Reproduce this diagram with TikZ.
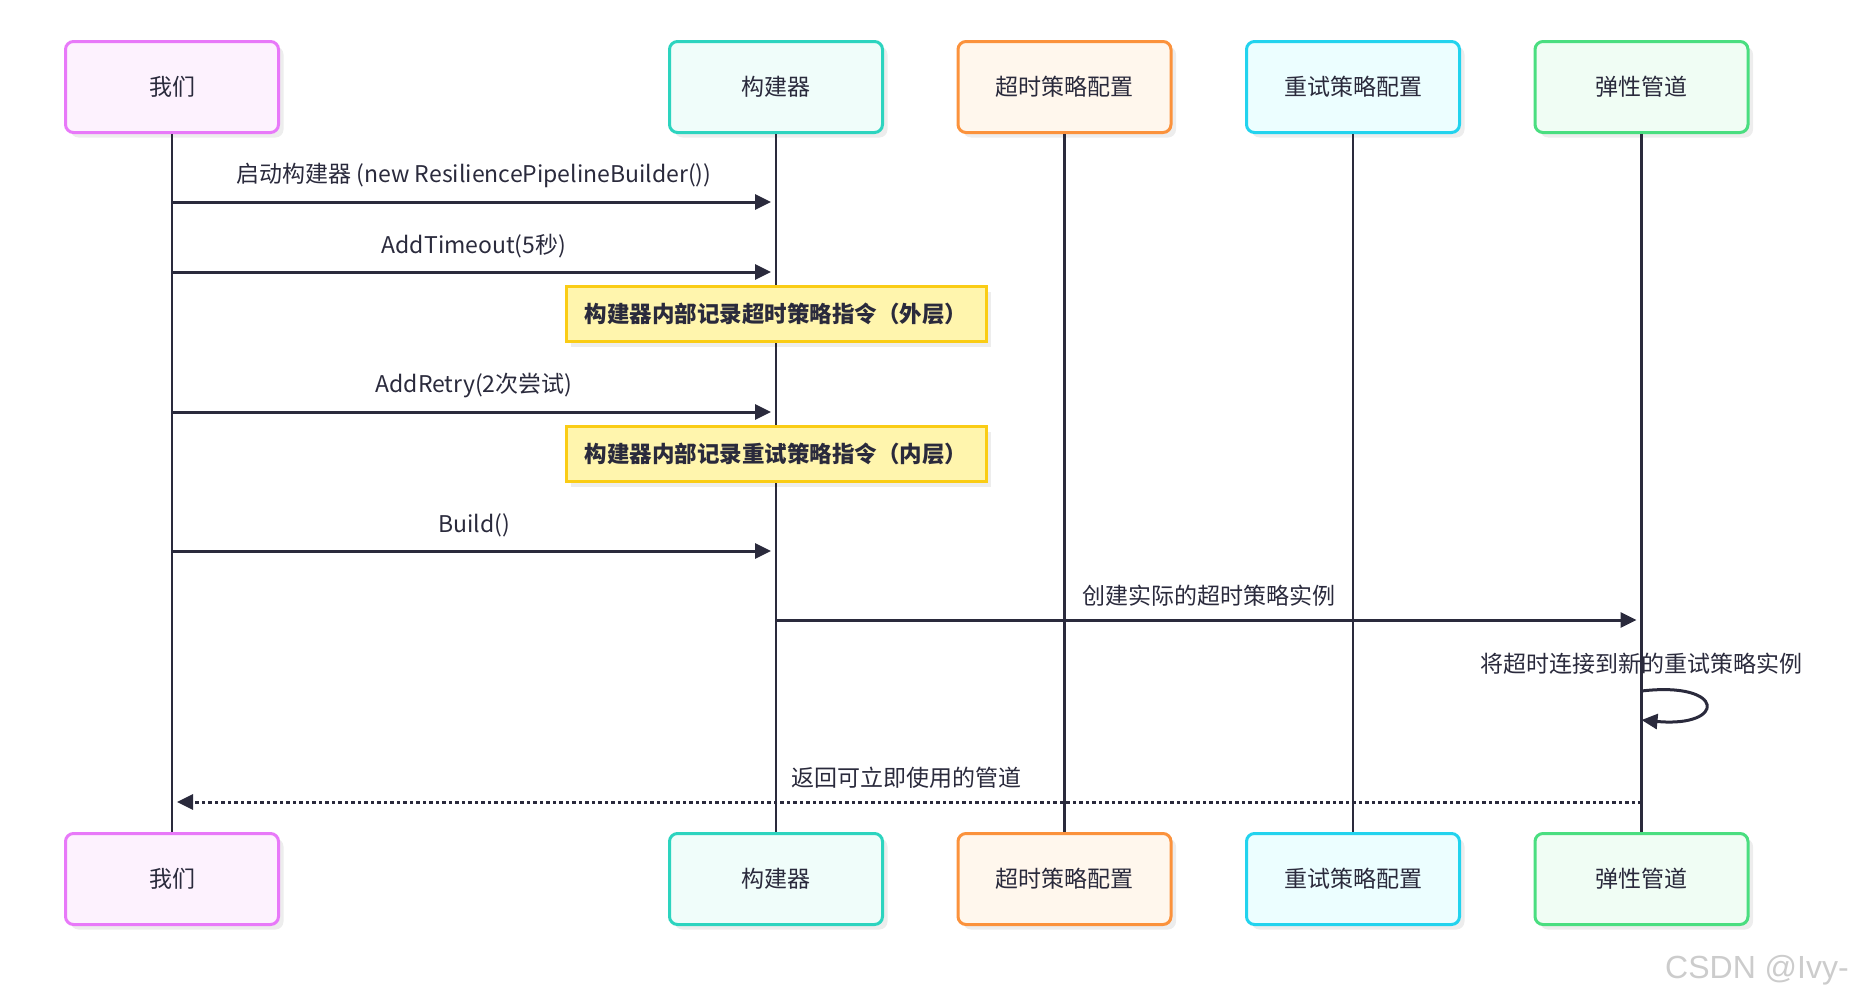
\documentclass[tikz,border=0pt]{standalone}
\usepackage{fontspec}
\setmainfont{Noto Sans CJK SC}
\newfontfamily\markfont{Liberation Sans}
\usepackage{tikz}
\usetikzlibrary{arrows.meta,
  positioning,
  shadows
}

\definecolor{inkc}{HTML}{2A2A3C}
\definecolor{usrline}{HTML}{E879F9}
\definecolor{usrfill}{HTML}{FDF2FE}
\definecolor{bldline}{HTML}{2DD4BF}
\definecolor{bldfill}{HTML}{F0FDFA}
\definecolor{toline}{HTML}{FB923C}
\definecolor{tofill}{HTML}{FFF7ED}
\definecolor{rtline}{HTML}{22D3EE}
\definecolor{rtfill}{HTML}{ECFEFF}
\definecolor{pipline}{HTML}{4ADE80}
\definecolor{pipfill}{HTML}{F0FDF4}
\definecolor{noteline}{HTML}{FACC15}
\definecolor{notefill}{HTML}{FFF5AD}

\begin{document}
\begin{tikzpicture}[x=1pt, y=-1pt, node distance=698pt and 72.5pt, every node/.style={font=\fontsize{23}{27}\selectfont, text=inkc}]

        % Stile
        \tikzstyle{actor}=[draw, line width=3pt, rounded corners=8pt, minimum width=213pt, minimum height=91pt, drop shadow={shadow xshift=5pt, shadow yshift=-5pt, fill=black, opacity=0.07}]
        \tikzstyle{usrbox}=[actor, draw=usrline, fill=usrfill]
        \tikzstyle{bldbox}=[actor, draw=bldline, fill=bldfill]
        \tikzstyle{tobox}=[actor, draw=toline, fill=tofill]
        \tikzstyle{rtbox}=[actor, draw=rtline, fill=rtfill]
        \tikzstyle{pipbox}=[actor, draw=pipline, fill=pipfill]
        \tikzstyle{note}=[draw=noteline, fill=notefill, line width=3pt, minimum width=420pt, minimum height=55pt, font=\fontsize{22.5}{27}\selectfont\bfseries, drop shadow={shadow xshift=5pt, shadow yshift=-5pt, fill=black, opacity=0.07}]
        \tikzstyle{life}=[draw=inkc, line width=2.5pt]
        \tikzstyle{msg}=[draw=inkc, line width=3pt, -{Triangle[length=16pt, width=15pt]}, shorten >=5pt]
        \tikzstyle{ret}=[msg, dash pattern=on 3.5pt off 3pt]

        \useasboundingbox (0,0) rectangle (1855,1001);

        % Teilnehmer oben
        \node[usrbox] (usr) at (172,87) {我们};
        \node[bldbox, right=388pt of usr] (bld) {构建器};
        \node[tobox, right=of bld] (to) {超时策略配置};
        \node[rtbox, right=of to] (rt) {重试策略配置};
        \node[pipbox, right=of rt] (pip) {弹性管道};

        % Teilnehmer unten
        \node[usrbox, below=of usr] (usr2) {我们};
        \node[bldbox, below=of bld] (bld2) {构建器};
        \node[tobox, below=of to] (to2) {超时策略配置};
        \node[rtbox, below=of rt] (rt2) {重试策略配置};
        \node[pipbox, below=of pip] (pip2) {弹性管道};

        % Lebenslinien
        \draw[life] (usr.south) -- (usr2.north);
        \draw[life] (bld.south) -- (bld2.north);
        \draw[life] (to.south) -- (to2.north);
        \draw[life] (rt.south) -- (rt2.north);
        \draw[life] (pip.south) -- (pip2.north);

        % Nachrichten
        \draw[msg] (usr |- 0,202) -- node[above=9pt] {启动构建器 (new ResiliencePipelineBuilder())} (bld |- 0,202);
        \draw[msg] (usr |- 0,272) -- node[above=9pt] {AddTimeout(5秒)} (bld |- 0,272);
        \node[note] (note1) at (bld |- 0,314) {构建器内部记录超时策略指令（外层）};
        \draw[msg] (usr |- 0,412) -- node[above=9pt] {AddRetry(2次尝试)} (bld |- 0,412);
        \node[note] (note2) at (bld |- 0,454) {构建器内部记录重试策略指令（内层）};
        \draw[msg] (usr |- 0,551) -- node[above=9pt] {Build()} (bld |- 0,551);
        \draw[msg] (bld |- 0,620) -- node[above=9pt] {创建实际的超时策略实例} (pip |- 0,620);

        % Selbstaufruf
        \draw[msg, shorten >=0pt] (pip |- 0,691) node[above=12pt] {将超时连接到新的重试策略实例}
          .. controls +(85,-10) and +(85,8) .. (pip |- 0,720);

        % Rueckgabe
        \draw[ret] (pip |- 0,802) -- node[above=9pt] {返回可立即使用的管道} (usr |- 0,802);

        \node[font=\markfont\fontsize{32}{38}\selectfont, text=gray!40] (wm) at (1757,970) {CSDN @Ivy-};
\end{tikzpicture}
\end{document}
